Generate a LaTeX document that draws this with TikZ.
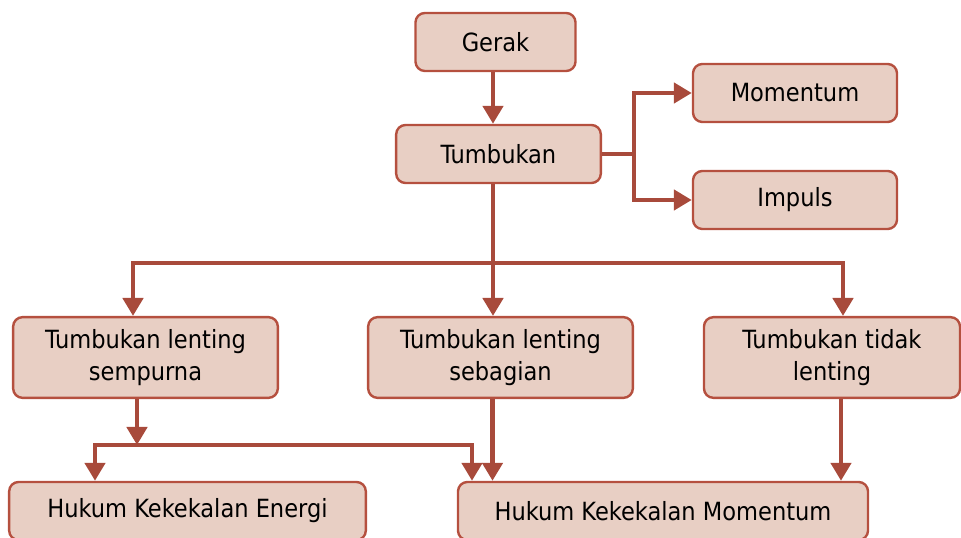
\documentclass[tikz,border=0pt]{standalone}
\usepackage{fontspec}
\setmainfont{DejaVu Sans Condensed}
\usetikzlibrary{arrows.meta}
\definecolor{boxfill}{HTML}{E8CFC4}
\definecolor{boxline}{HTML}{B5503F}
\definecolor{linkred}{HTML}{A84A3B}

\begin{document}
\begin{tikzpicture}[x=0.75pt,y=-0.75pt,>={Triangle[length=13.5pt,width=15pt]},
  box/.style={draw=boxline,line width=1.8pt,fill=boxfill,rounded corners=7pt,
    align=center,inner sep=0pt,font=\fontsize{18.8}{24}\selectfont},
  link/.style={draw=linkred,line width=3.4pt,->},
  bar/.style={draw=linkred,line width=3.4pt}]
\useasboundingbox (0,0) rectangle (961,538);
% boxes
\node[box,minimum width=120pt,minimum height=43.5pt] (gerak) at (495.5,42) {Gerak};
\node[box,minimum width=153.5pt,minimum height=43.5pt] (tumbukan) at (498.5,154) {Tumbukan};
\node[box,minimum width=153pt,minimum height=43.5pt] (momentum) at (795,93) {Momentum};
\node[box,minimum width=153pt,minimum height=43.5pt] (impuls) at (795,200) {Impuls};
\node[box,minimum width=198.5pt,minimum height=60.5pt] (sempurna) at (145.5,357.5) {Tumbukan lenting\\sempurna};
\node[box,minimum width=198.5pt,minimum height=60.5pt] (sebagian) at (500.5,357.5) {Tumbukan lenting\\sebagian};
\node[box,minimum width=192pt,minimum height=60.5pt] (tidak) at (832,357.5) {Tumbukan tidak\\lenting};
\node[box,minimum width=267.5pt,minimum height=43.5pt] (energi) at (187.5,511) {Hukum Kekekalan Energi};
\node[box,minimum width=307.5pt,minimum height=43.5pt] (kekekalan) at (663,511) {Hukum Kekekalan Momentum};
% connectors
\coordinate (bus) at (493,263);
\coordinate (busL) at (133,263);
\coordinate (busR) at (843,263);
\coordinate (split) at (634,154);
\coordinate (drop) at (137,445);
\coordinate (lowL) at (95,445);
\coordinate (lowR) at (472,445);
\draw[link] (gerak.south -| bus) -- (bus |- tumbukan.north);
\draw[bar] (tumbukan.east) -- (split);
\draw[link] (split) |- (momentum.west);
\draw[link] (split) |- (impuls.west);
\draw[link] (tumbukan.south -| bus) -- (bus |- sebagian.north);
\draw[link] (bus) -| (busL |- sempurna.north);
\draw[link] (bus) -| (busR |- tidak.north);
\draw[link] (sempurna.south -| drop) -- (drop);
\draw[link,<->] (lowL |- energi.north) -- (lowL) -- (lowR) -- (lowR |- kekekalan.north);
\draw[link] ([xshift=-6pt]sebagian.south) -- ([xshift=-6pt]sebagian.south |- kekekalan.north);
\draw[link] ([xshift=6.75pt]tidak.south) -- ([xshift=6.75pt]tidak.south |- kekekalan.north);
\end{tikzpicture}
\end{document}
